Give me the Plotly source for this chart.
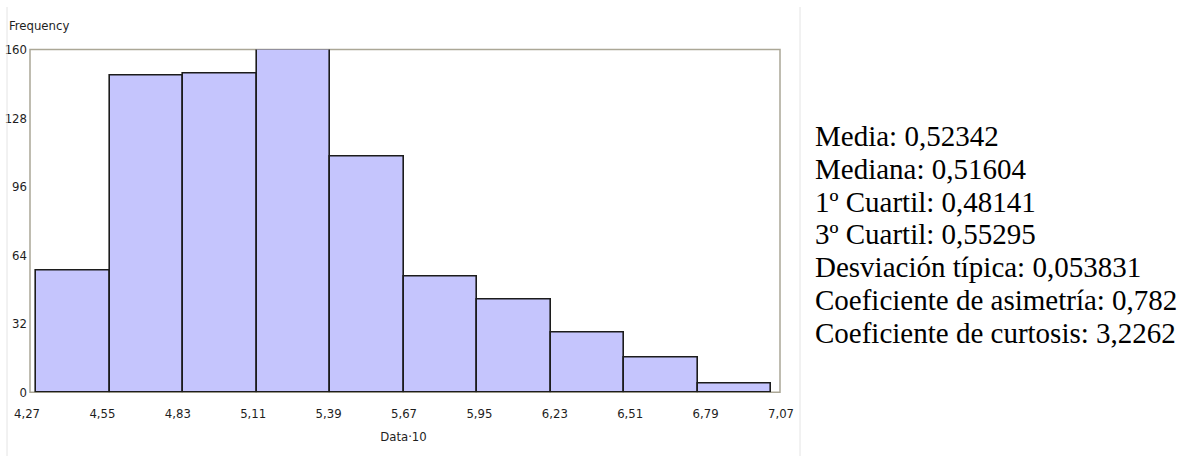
import plotly.graph_objects as go

# Histogram of the sample (values scaled by 10)
bin_edges = [4.27, 4.55, 4.83, 5.11, 5.39, 5.67, 5.95, 6.23, 6.51, 6.79, 7.07]
tick_labels = ["4,27", "4,55", "4,83", "5,11", "5,39", "5,67", "5,95", "6,23", "6,51", "6,79", "7,07"]
frequencies = [57, 148, 149, 160, 110, 54, 43, 28, 16, 4]
y_ticks = [0, 32, 64, 96, 128, 160]

# Summary statistics printed beside the chart
stats_lines = [
    "Media: 0,52342",
    "Mediana: 0,51604",
    "1º Cuartil: 0,48141",
    "3º Cuartil: 0,55295",
    "Desviación típica: 0,053831",
    "Coeficiente de asimetría: 0,782",
    "Coeficiente de curtosis: 3,2262",
]

W, H = 1186, 464
NARROW = "Liberation Sans Narrow, Arial Narrow, DejaVu Sans Condensed, sans-serif"
SERIF = "Liberation Serif, Times New Roman, serif"
LABEL_FONT = dict(family=NARROW, size=13, color="#1e1e1e")
FRAME = "#aba796"

centers = [(a + b) / 2 for a, b in zip(bin_edges[:-1], bin_edges[1:])]
widths = [b - a for a, b in zip(bin_edges[:-1], bin_edges[1:])]


def px_x(p):
    return p / W


def px_y(p):
    return 1 - p / H


# geometry in pixels
left, right, top, bottom = 30, 780, 44, 398
dom_l, dom_r = 12, 795
bar_left_px, bar_right_px = 36, 771
lab_left_px, lab_right_px = 27, 781

lo, hi = bin_edges[0], bin_edges[-1]
k_bar = (bar_right_px - bar_left_px) / (hi - lo)
bar_range = [lo - (bar_left_px - dom_l) / k_bar, hi + (dom_r - bar_right_px) / k_bar]
k_lab = (lab_right_px - lab_left_px) / (hi - lo)
lab_range = [lo - (lab_left_px - dom_l) / k_lab, hi + (dom_r - lab_right_px) / k_lab]

fig = go.Figure()
fig.add_trace(go.Bar(
    x=centers,
    y=frequencies,
    width=widths,
    marker=dict(color="#c5c5fd", line=dict(color="#1c1c1c", width=1.6)),
    hoverinfo="x+y",
    showlegend=False,
))
# carrier for the labelled x axis (nothing visible)
fig.add_trace(go.Scatter(
    x=[lo, hi], y=[0, 0], xaxis="x2", yaxis="y",
    mode="markers", marker=dict(opacity=0, size=1),
    hoverinfo="skip", showlegend=False,
))

fig.update_layout(
    width=W,
    height=H,
    autosize=False,
    margin=dict(l=0, r=0, t=0, b=0),
    paper_bgcolor="white",
    plot_bgcolor="white",
    bargap=0,
    xaxis=dict(
        domain=[px_x(dom_l), px_x(dom_r)],
        range=bar_range,
        showticklabels=False,
        ticks="",
        showgrid=False,
        zeroline=False,
        showline=False,
    ),
    xaxis2=dict(
        overlaying="x",
        anchor="y",
        side="bottom",
        range=lab_range,
        tickmode="array",
        tickvals=bin_edges,
        ticktext=tick_labels,
        ticks="",
        showgrid=False,
        zeroline=False,
        showline=False,
        ticklabelstandoff=12,
        tickfont=LABEL_FONT,
        title=dict(text="Data·10", font=LABEL_FONT, standoff=11),
    ),
    yaxis=dict(
        domain=[px_y(bottom), px_y(top)],
        anchor="free",
        position=px_x(left),
        range=[0, 160],
        tickmode="array",
        tickvals=y_ticks,
        ticks="",
        showgrid=False,
        zeroline=False,
        showline=False,
        ticklabelstandoff=3,
        tickfont=LABEL_FONT,
    ),
)

# plot frame
fig.add_shape(type="rect", xref="paper", yref="paper", layer="below",
              x0=px_x(left), x1=px_x(right), y0=px_y(bottom), y1=px_y(top),
              line=dict(color=FRAME, width=1.5), fillcolor="rgba(0,0,0,0)")

# light page separators
for xp in (7, 800):
    fig.add_shape(type="line", xref="paper", yref="paper",
                  x0=px_x(xp), x1=px_x(xp), y0=0, y1=1,
                  line=dict(color="#e4e4e4", width=1))

fig.add_annotation(text="Frequency", xref="paper", yref="paper",
                   x=px_x(7), y=px_y(19), xanchor="left", yanchor="middle",
                   showarrow=False, font=LABEL_FONT)

for i, line in enumerate(stats_lines):
    fig.add_annotation(text=line, xref="paper", yref="paper",
                       x=px_x(813), y=px_y(133 + 34 * i), xanchor="left", yanchor="middle",
                       showarrow=False, font=dict(family=SERIF, size=29, color="#000000"))

fig.write_html("out.html")
